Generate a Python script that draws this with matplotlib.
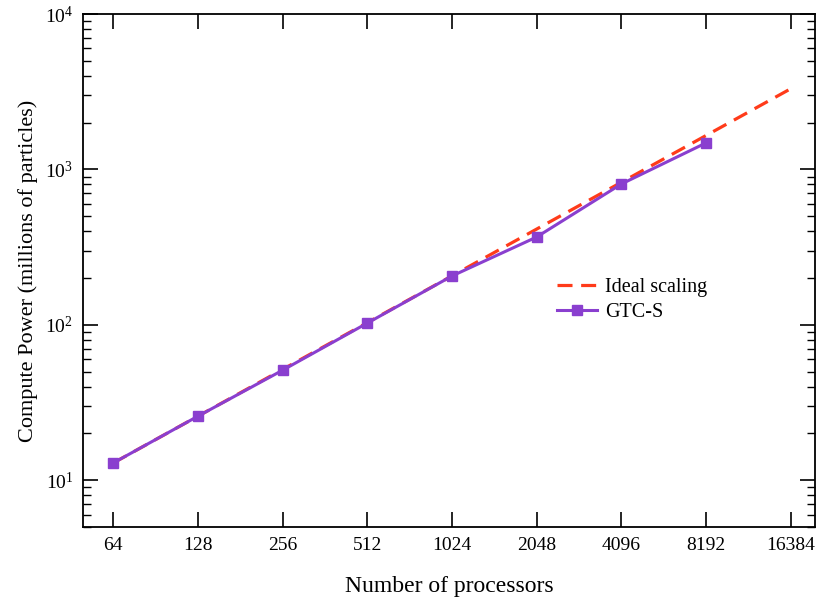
import matplotlib
matplotlib.use("Agg")
import matplotlib.pyplot as plt
from matplotlib.ticker import FixedLocator, FixedFormatter, LogLocator, NullFormatter

plt.rcParams['font.family'] = ['Liberation Serif', 'DejaVu Serif']
plt.rcParams['mathtext.fontset'] = 'stix'

procs = [64, 128, 256, 512, 1024, 2048, 4096, 8192]
gtc_s = [12.9, 25.8, 51, 102.5, 206, 367, 805, 1480]
ideal_procs = [64, 128, 256, 512, 1024, 2048, 4096, 8192, 16384]
ideal = [12.9, 25.8, 51.6, 103.2, 206.4, 412.8, 825.6, 1651, 3302]
xtick_vals = [64, 128, 256, 512, 1024, 2048, 4096, 8192, 16384]
xtick_labels = ['64', '128', '256', '512', '1024', '2048', '4096', '8192', '16384']

fig = plt.figure(figsize=(8.26, 5.98), dpi=100)
ax = fig.add_axes([83/826, 1-527/598, (815-83)/826, (527-14)/598])

ax.plot(ideal_procs, ideal, color='#FF3B1A', lw=2.3, dashes=(4.7, 2.7), label='Ideal scaling', zorder=2)
ax.plot(procs, gtc_s, color='#8A3FCF', lw=2.2, marker='s', ms=7, label='GTC-S', zorder=3)

ax.set_xscale('log', base=2)
ax.set_yscale('log')
ax.set_xlim(50, 20000)
ax.set_ylim(5, 1e4)

ax.xaxis.set_major_locator(FixedLocator(xtick_vals))
ax.xaxis.set_major_formatter(FixedFormatter(xtick_labels))
ax.xaxis.set_minor_locator(FixedLocator([]))
ax.yaxis.set_major_locator(LogLocator(base=10, numticks=10))
ax.yaxis.set_minor_locator(LogLocator(base=10, subs=range(2, 10), numticks=20))
ax.yaxis.set_minor_formatter(NullFormatter())

ax.tick_params(which='major', direction='in', length=11, width=1.2, top=True, right=True, labelsize=14, pad=7)
ax.tick_params(which='minor', direction='in', length=6, width=1.0, top=True, right=True)
for s in ax.spines.values():
    s.set_linewidth(1.3)

ax.set_xlabel('Number of processors', fontsize=17, labelpad=16)
ax.set_ylabel('Compute Power (millions of particles)', fontsize=16, labelpad=5)

ax.legend(loc='upper left', bbox_to_anchor=(543/826, 1-264/598), bbox_transform=fig.transFigure,
          frameon=False, fontsize=14.5, handlelength=2.0, handletextpad=0.4, labelspacing=0.3,
          borderpad=0.2)

fig.savefig('out.png', dpi=100)
